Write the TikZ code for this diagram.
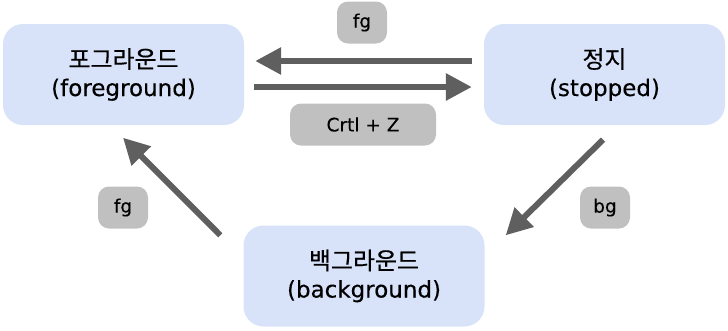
\documentclass[tikz,border=0pt]{standalone}
\usepackage{fontspec}
\setmainfont{DejaVu Sans}[FakeBold=0.25]
\newfontfamily\kr[FakeBold=0.4,Scale=1.04]{Noto Sans CJK KR}
\usetikzlibrary{arrows.meta}

\definecolor{statefill}{RGB}{216,226,248}
\definecolor{labelfill}{RGB}{192,192,192}
\definecolor{arrowgray}{RGB}{95,95,95}

\begin{document}
\begin{tikzpicture}
[  
    x=1pt, y=1pt,
    state/.style={fill=statefill, rounded corners=20pt, minimum width=241pt, minimum height=101pt, align=center, font=\fontsize{23}{28}\selectfont},
    keylabel/.style={fill=labelfill, rounded corners=11pt, minimum width=50pt, minimum height=42pt, font=\fontsize{18.5}{20}\selectfont},
    arr/.style={draw=arrowgray, line width=6pt, -{Triangle[length=26pt,width=26pt]}}
]
    \useasboundingbox (0,0) rectangle (728,-330);

    % states
    \node [state] (foreground) at (123.5,-74.5) {{\kr 포그라운드}\\(foreground)};
    \node [state] (stopped) at (604.5,-74.5) {{\kr 정지}\\(stopped)};
    \node [state] (background) at (364,-276) {{\kr 백그라운드}\\(background)};

    % key labels
    \node [keylabel] (fgtop) at (362,-22.5) {fg};
    \node [keylabel, minimum width=146pt] (ctrlz) at (363,-124.5) {Crtl + Z};
    \node [keylabel] (bg) at (605,-207.5) {bg};
    \node [keylabel] (fgleft) at (123,-207.5) {fg};

    % transitions
    \draw [arr, shorten <=12pt, shorten >=11pt] ([yshift=13.5pt]stopped.west) -- ([yshift=13.5pt]foreground.east);
    \draw [arr, shorten <=10pt, shorten >=12pt] ([yshift=-12.5pt]foreground.east) -- ([yshift=-12.5pt]stopped.west);
    \draw [arr] ([xshift=-1.5pt,yshift=-14.5pt]stopped.south) -- ([xshift=21pt,yshift=-10pt]background.north east);
    \draw [arr] ([xshift=-23pt,yshift=-10pt]background.north west) -- ([xshift=-0.5pt,yshift=-12.5pt]foreground.south);
\end{tikzpicture}
\end{document}
